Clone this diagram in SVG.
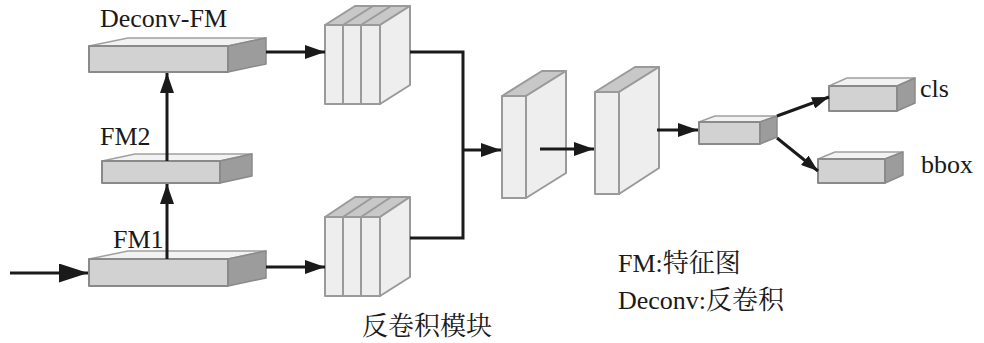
<svg xmlns="http://www.w3.org/2000/svg" width="984" height="343" viewBox="0 0 984 343">
<style>
.fr{fill:#d2d2d2;stroke:#8a8a8a;stroke-width:2;stroke-linejoin:round}
.tp{fill:#f2f2f2;stroke:#a0a0a0;stroke-width:1.5;stroke-linejoin:round}
.rt{fill:#9c9c9c;stroke:#8a8a8a;stroke-width:1.5;stroke-linejoin:round}
.bf{fill:#eeeeee;stroke:#9a9a9a;stroke-width:2;stroke-linejoin:round}
.bt{fill:#c8c8c8;stroke:#9a9a9a;stroke-width:2;stroke-linejoin:round}
.ln{fill:none;stroke:#1a1a1a;stroke-width:3}
.t{font-family:"Liberation Serif","Noto Serif CJK SC","Noto Sans CJK SC",serif;font-size:26px;fill:#1a1a1a}
</style>
<defs>
<marker id="ah" markerUnits="userSpaceOnUse" markerWidth="20" markerHeight="14" refX="20" refY="7" orient="auto"><path d="M0,0 L20,7 L0,14 z" fill="#1a1a1a"/></marker>
<marker id="ahb" markerUnits="userSpaceOnUse" markerWidth="29" markerHeight="19" refX="29" refY="9.5" orient="auto"><path d="M0,0 L29,9.5 L0,19 z" fill="#1a1a1a"/></marker>
<marker id="ahs" markerUnits="userSpaceOnUse" markerWidth="17" markerHeight="12" refX="17" refY="6" orient="auto"><path d="M0,0 L17,6 L0,12 z" fill="#1a1a1a"/></marker>
</defs>

<g id="deconv-fm">
<polygon class="tp" points="89,46 128,38 266,38 228,46"/>
<polygon class="rt" points="228,46 266,38 266,64 228,72"/>
<rect class="fr" x="89" y="46" width="139" height="26"/>
<text class="t" x="100" y="27">Deconv-FM</text>
</g>

<g id="fm2">
<polygon class="tp" points="102,161 135,154 252,154 220,161"/>
<polygon class="rt" points="220,161 252,154 252,176 220,183"/>
<rect class="fr" x="102" y="161" width="118" height="22"/>
<text class="t" x="100" y="145">FM2</text>
</g>

<g id="fm1">
<polygon class="tp" points="89,259 128,251 266,251 228,259"/>
<polygon class="rt" points="228,259 266,251 266,278 228,286"/>
<rect class="fr" x="89" y="259" width="139" height="27"/>
<text class="t" x="113" y="248">FM1</text>
</g>

<g id="deconv-block-top">
<polygon class="bt" points="325,25 355,6 410,6 380,25"/>
<line class="bt" x1="343" y1="25" x2="373" y2="6"/>
<line class="bt" x1="361" y1="25" x2="391" y2="6"/>
<polygon class="bf" points="380,25 410,6 410,85 380,104"/>
<rect class="bf" x="325" y="25" width="18" height="79"/>
<rect class="bf" x="343" y="25" width="18" height="79"/>
<rect class="bf" x="361" y="25" width="19" height="79"/>
</g>

<g id="deconv-block-bottom">
<polygon class="bt" points="325,217 355,197 410,197 380,217"/>
<line class="bt" x1="343" y1="217" x2="373" y2="197"/>
<line class="bt" x1="361" y1="217" x2="391" y2="197"/>
<polygon class="bf" points="380,217 410,197 410,277 380,296"/>
<rect class="bf" x="325" y="217" width="18" height="79"/>
<rect class="bf" x="343" y="217" width="18" height="79"/>
<rect class="bf" x="361" y="217" width="19" height="79"/>
<text class="t" x="362" y="335">反卷积模块</text>
</g>

<g id="slab1">
<polygon class="bt" points="502,96 542,71 566,71 526,96"/>
<polygon class="bf" points="526,96 566,71 566,173 526,198"/>
<rect class="bf" x="502" y="96" width="24" height="102"/>
</g>

<g id="slab2">
<polygon class="bt" points="595,92 635,67 659,67 619,92"/>
<polygon class="bf" points="619,92 659,67 659,168 619,194"/>
<rect class="bf" x="595" y="92" width="24" height="102"/>
</g>

<g id="small-box">
<polygon class="tp" points="699,122 715,116 777,116 760,122"/>
<polygon class="rt" points="760,122 777,116 777,137 760,144"/>
<rect class="fr" x="699" y="122" width="61" height="22"/>
</g>

<g id="cls">
<polygon class="tp" points="829,86 847,78 915,78 897,86"/>
<polygon class="rt" points="897,86 915,78 915,103 897,111"/>
<rect class="fr" x="829" y="86" width="68" height="25"/>
<text class="t" x="920" y="97">cls</text>
</g>

<g id="bbox">
<polygon class="tp" points="818,159 835,152 903,152 885,159"/>
<polygon class="rt" points="885,159 903,152 903,175 885,183"/>
<rect class="fr" x="818" y="159" width="67" height="24"/>
<text class="t" x="921" y="173">bbox</text>
</g>

<g id="legend">
<text class="t" x="618" y="272">FM:特征图</text>
<text class="t" x="618" y="309">Deconv:反卷积</text>
</g>

<g id="connectors">
<line class="ln" x1="10" y1="273" x2="88" y2="273" marker-end="url(#ahb)"/>
<line class="ln" x1="167" y1="259" x2="167" y2="184" marker-end="url(#ah)"/>
<line class="ln" x1="167" y1="161" x2="167" y2="73" marker-end="url(#ah)"/>
<line class="ln" x1="266" y1="52" x2="325" y2="52" marker-end="url(#ah)"/>
<line class="ln" x1="266" y1="267" x2="325" y2="267" marker-end="url(#ah)"/>
<polyline class="ln" points="410,52 463,52 463,238 410,238"/>
<line class="ln" x1="463" y1="150" x2="501" y2="150" marker-end="url(#ah)"/>
<line class="ln" x1="540" y1="149" x2="594" y2="149" marker-end="url(#ah)"/>
<line class="ln" x1="657" y1="130" x2="698" y2="130" marker-end="url(#ah)"/>
<line class="ln" x1="777" y1="116" x2="829" y2="97" marker-end="url(#ahs)"/>
<line class="ln" x1="777" y1="138" x2="818" y2="171" marker-end="url(#ahs)"/>
</g>
</svg>
